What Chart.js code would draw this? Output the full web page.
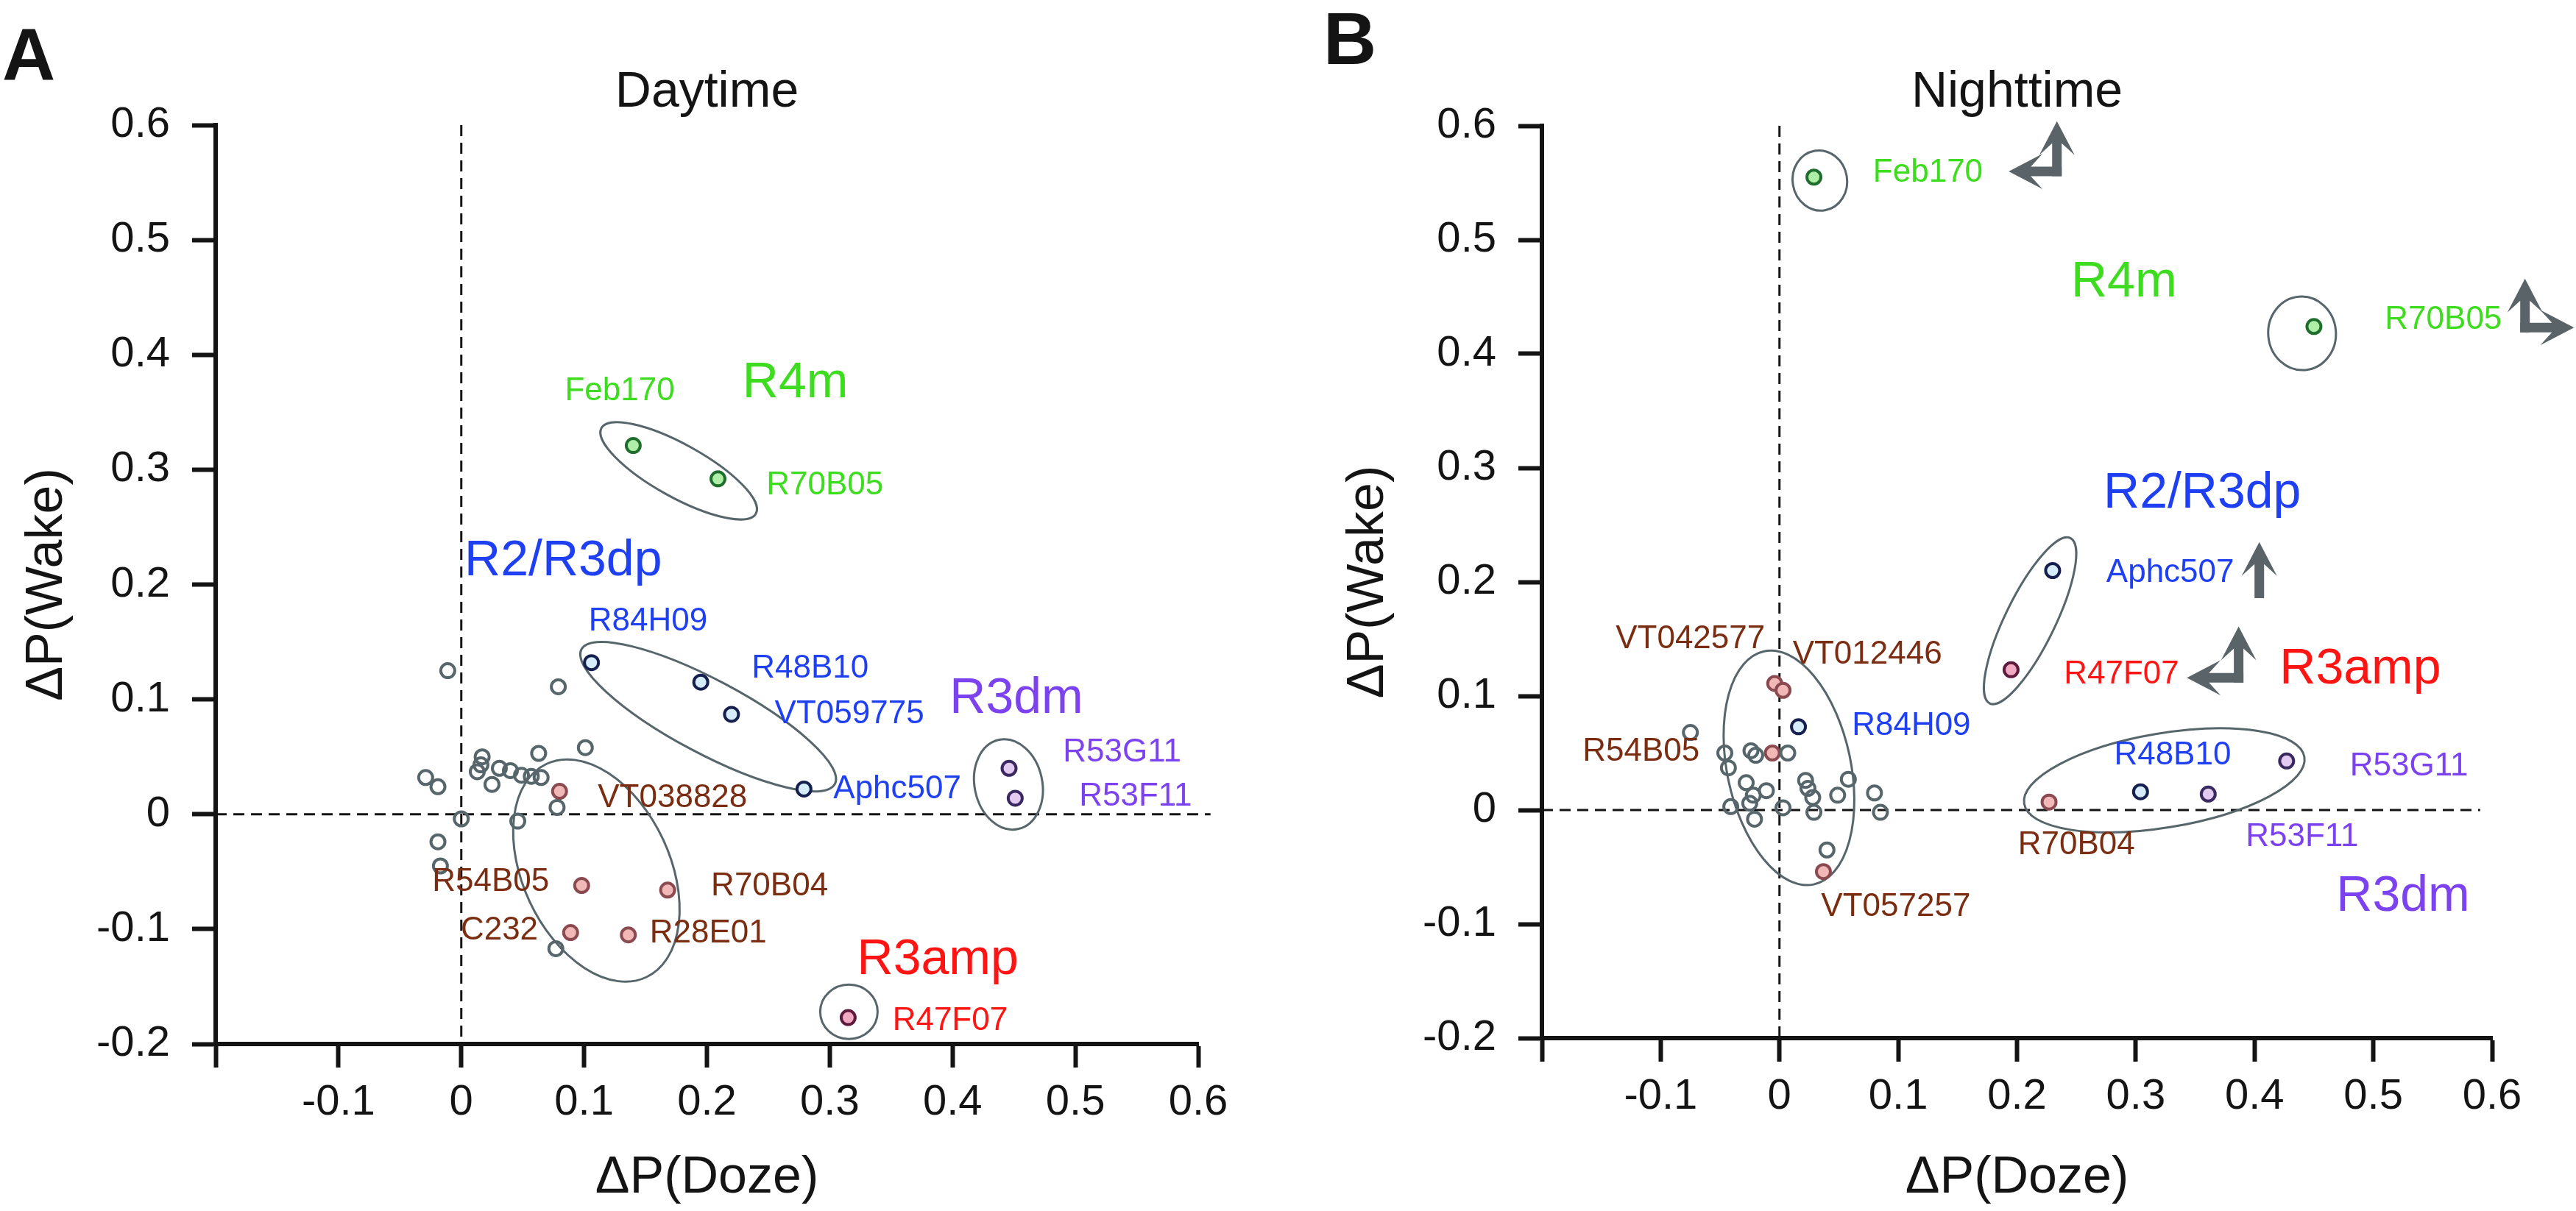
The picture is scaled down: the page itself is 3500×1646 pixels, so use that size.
<!DOCTYPE html>
<html>
<head>
<meta charset="utf-8">
<script src="https://cdn.jsdelivr.net/npm/chart.js@4.4.1/dist/chart.umd.min.js"></script>
<style>
  html, body { margin:0; padding:0; background:#fff; }
  #wrap { position:relative; width:3500px; height:1646px; }
  .panel { position:absolute; top:0; width:1750px; height:1646px; }
</style>
</head>
<body>
<div id="wrap">
  <div class="panel" style="left:0"><canvas id="dayChart"></canvas></div>
  <div class="panel" style="left:1750px"><canvas id="nightChart"></canvas></div>
</div>
<script>
// ---- data ----
const xTickLabels = ['', '-0.1', '0', '0.1', '0.2', '0.3', '0.4', '0.5', '0.6'];
const yTickLabels = ['-0.2', '-0.1', '0', '0.1', '0.2', '0.3', '0.4', '0.5', '0.6'];

// Daytime: unlabelled lines
const dayGrayX = [-0.011, 0.079, 0.101, 0.063, 0.017, 0.016, 0.013, 0.025, 0.031, 0.040, 0.049, 0.057, 0.065, -0.029, -0.019, 0.000, 0.046, 0.078, -0.019, -0.017, 0.077];
const dayGrayY = [0.125, 0.111, 0.058, 0.053, 0.050, 0.043, 0.037, 0.026, 0.040, 0.038, 0.034, 0.033, 0.032, 0.032, 0.024, -0.004, -0.006, 0.006, -0.024, -0.045, -0.117];
// Daytime: named lines
const dayLines = ['Feb170', 'R70B05', 'R84H09', 'R48B10', 'VT059775', 'Aphc507', 'R53G11', 'R53F11', 'R47F07', 'VT038828', 'R54B05', 'R70B04', 'C232', 'R28E01'];
const dayGroup = ['R4m', 'R4m', 'R2/R3dp', 'R2/R3dp', 'R2/R3dp', 'R2/R3dp', 'R3dm', 'R3dm', 'R3amp', 'other', 'other', 'other', 'other', 'other'];
const dayX = [0.140, 0.209, 0.106, 0.195, 0.220, 0.279, 0.446, 0.451, 0.315, 0.080, 0.098, 0.168, 0.089, 0.136];
const dayY = [0.321, 0.292, 0.132, 0.115, 0.087, 0.022, 0.040, 0.014, -0.177, 0.020, -0.062, -0.066, -0.103, -0.105];

// Nighttime: unlabelled lines
const nightGrayX = [-0.075, -0.046, -0.024, -0.020, 0.007, -0.043, -0.028, -0.011, -0.022, -0.041, -0.025, -0.021, 0.003, 0.022, 0.024, 0.028, 0.029, 0.049, 0.058, 0.080, 0.085, 0.040];
const nightGrayY = [0.068, 0.050, 0.052, 0.048, 0.050, 0.037, 0.024, 0.017, 0.013, 0.003, 0.006, -0.008, 0.002, 0.026, 0.019, 0.011, -0.002, 0.013, 0.027, 0.015, -0.002, -0.035];
// Nighttime: named lines
const nightLines = ['Feb170', 'R70B05', 'Aphc507', 'R84H09', 'R48B10', 'R47F07', 'R53G11', 'R53F11', 'R70B04', 'VT042577', 'VT012446', 'R54B05', 'VT057257'];
const nightGroup = ['R4m', 'R4m', 'R2/R3dp', 'R2/R3dp', 'R2/R3dp', 'R3amp', 'R3dm', 'R3dm', 'other', 'other', 'other', 'other', 'other'];
const nightX = [0.029, 0.450, 0.230, 0.016, 0.304, 0.195, 0.427, 0.361, 0.227, -0.004, 0.003, -0.006, 0.037];
const nightY = [0.555, 0.424, 0.210, 0.073, 0.016, 0.123, 0.043, 0.014, 0.007, 0.111, 0.105, 0.050, -0.054];

// ---- styles ----
Chart.defaults.font.family = "'Liberation Sans', Arial, sans-serif";
const ink = '#141414';
const ringGray = '#56666b';
const groupText = { 'R4m':'#3ddc1f', 'R2/R3dp':'#1f3ff2', 'R3dm':'#7d42f0', 'R3amp':'#ff1414', 'other':'#7b2d12' };
const groupMarker = {
  'R4m':     { border:'#1f6e2e', fill:'#aeeea6' },
  'R2/R3dp': { border:'#16204e', fill:'#d6ecfa' },
  'R3dm':    { border:'#3a2860', fill:'#e2caf0' },
  'R3amp':   { border:'#5e1a3a', fill:'#f2aac2' },
  'other':   { border:'#8a4a50', fill:'#f2b8b8' }
};

// ---- annotations (positions in data units, sizes in px) ----
const dayNotes = {
  letter: { t:'A', x:3, y:109 },
  zeroTo: 0.61,
  names: { Feb170:[0.129,0.368], R70B05:[0.296,0.286], R84H09:[0.152,0.168], R48B10:[0.284,0.127], VT059775:[0.316,0.087],
           Aphc507:[0.355,0.022], R53G11:[0.538,0.054], R53F11:[0.549,0.015], R47F07:[0.398,-0.180], VT038828:[0.172,0.014],
           R54B05:[0.024,-0.059], R70B04:[0.251,-0.063], C232:[0.031,-0.101], R28E01:[0.201,-0.104] },
  groups: [ { t:'R4m', x:0.272, y:0.375 }, { t:'R2/R3dp', x:0.083, y:0.220 }, { t:'R3dm', x:0.452, y:0.100 }, { t:'R3amp', x:0.388, y:-0.127 } ],
  ellipses: [
    { x:0.177, y:0.299, a:120, b:36, rot:29 },
    { x:0.201, y:0.085, a:195, b:50, rot:28 },
    { x:0.110, y:-0.049, a:160, b:100, rot:65 },
    { x:0.4455, y:0.026, a:62, b:46, rot:78 },
    { x:0.3156, y:-0.172, a:39, b:37, rot:0 }
  ],
  arrows: []
};
const nightNotes = {
  letter: { t:'B', x:48, y:87 },
  zeroTo: 0.59,
  names: { Feb170:[0.125,0.559], R70B05:[0.559,0.430], Aphc507:[0.329,0.208], R84H09:[0.111,0.0735], R48B10:[0.331,0.048],
           R47F07:[0.288,0.119], R53G11:[0.530,0.038], R53F11:[0.440,-0.024], R70B04:[0.250,-0.031], VT042577:[-0.075,0.150],
           VT012446:[0.074,0.136], R54B05:[-0.1165,0.051], VT057257:[0.098,-0.085] },
  groups: [ { t:'R4m', x:0.290, y:0.4626 }, { t:'R2/R3dp', x:0.356, y:0.277 }, { t:'R3amp', x:0.489, y:0.123 }, { t:'R3dm', x:0.525, y:-0.076 } ],
  ellipses: [
    { x:0.034, y:0.552, a:41, b:37, rot:80 },
    { x:0.440, y:0.418, a:50, b:46, rot:85 },
    { x:0.211, y:0.166, a:125, b:34, rot:-64 },
    { x:0.324, y:0.026, a:193, b:64, rot:-9.5 },
    { x:0.008, y:0.037, a:162, b:84, rot:78 }
  ],
  arrows: [
    { x:0.2336, y:0.560, up:0.604, side:0.193 },
    { x:0.6277, y:0.423, up:0.466, side:0.669 },
    { x:0.404, y:0.190, up:0.235 },
    { x:0.3866, y:0.116, up:0.161, side:0.343 }
  ]
};

// ---- helpers ----
function arrow(ctx, x0, y0, x1, y1) {
  const ang = Math.atan2(y1 - y0, x1 - x0), len = Math.hypot(x1 - x0, y1 - y0);
  const w = 6.5, hl = 46, hw = 24, notch = 16;
  ctx.save();
  ctx.translate(x0, y0); ctx.rotate(ang);
  ctx.beginPath();
  ctx.moveTo(-w, -w);
  ctx.lineTo(len - hl + notch, -w);
  ctx.lineTo(len - hl, -hw);
  ctx.lineTo(len, 0);
  ctx.lineTo(len - hl, hw);
  ctx.lineTo(len - hl + notch, w);
  ctx.lineTo(-w, w);
  ctx.closePath();
  ctx.fill();
  ctx.restore();
}

function makeOverlay(notes, names, groups) {
  return {
    id: 'overlay',
    beforeDatasetsDraw(chart) {
      const { ctx, chartArea, scales:{ x, y } } = chart;
      ctx.save();
      ctx.strokeStyle = ink; ctx.lineWidth = 3; ctx.setLineDash([15, 9]);
      ctx.beginPath();
      ctx.moveTo(chartArea.left, y.getPixelForValue(0));
      ctx.lineTo(x.getPixelForValue(notes.zeroTo), y.getPixelForValue(0));
      ctx.moveTo(x.getPixelForValue(0), chartArea.top);
      ctx.lineTo(x.getPixelForValue(0), chartArea.bottom + 32);
      ctx.stroke();
      ctx.setLineDash([]);
      ctx.strokeStyle = ringGray; ctx.lineWidth = 3;
      notes.ellipses.forEach(e => {
        ctx.beginPath();
        ctx.ellipse(x.getPixelForValue(e.x), y.getPixelForValue(e.y), e.a, e.b, e.rot * Math.PI / 180, 0, 2 * Math.PI);
        ctx.stroke();
      });
      ctx.restore();
    },
    afterDatasetsDraw(chart) {
      const { ctx, scales:{ x, y } } = chart;
      ctx.save();
      ctx.textAlign = 'center'; ctx.textBaseline = 'middle';
      // line names
      ctx.font = "44px 'Liberation Sans', Arial, sans-serif";
      names.forEach((n, i) => {
        const p = notes.names[n];
        ctx.fillStyle = groupText[groups[i]];
        ctx.fillText(n, x.getPixelForValue(p[0]), y.getPixelForValue(p[1]));
      });
      // cluster names
      ctx.font = "68px 'Liberation Sans', Arial, sans-serif";
      notes.groups.forEach(g => {
        ctx.fillStyle = groupText[g.t];
        ctx.fillText(g.t, x.getPixelForValue(g.x), y.getPixelForValue(g.y));
      });
      // arrows
      ctx.fillStyle = '#5a6468';
      notes.arrows.forEach(a => {
        const cx = x.getPixelForValue(a.x), cy = y.getPixelForValue(a.y);
        arrow(ctx, cx, cy, cx, y.getPixelForValue(a.up));
        if (a.side !== undefined) arrow(ctx, cx, cy, x.getPixelForValue(a.side), cy);
      });
      // panel letter
      ctx.fillStyle = ink; ctx.textAlign = 'left'; ctx.textBaseline = 'alphabetic';
      ctx.font = "bold 100px 'Liberation Sans', Arial, sans-serif";
      ctx.fillText(notes.letter.t, notes.letter.x, notes.letter.y);
      ctx.restore();
    }
  };
}

function datasets(grayX, grayY, names, groups, xs, ys) {
  const sets = [{
    data: grayX.map((v, i) => ({ x:v, y:grayY[i] })),
    borderColor: ringGray, backgroundColor: 'rgba(0,0,0,0)'
  }];
  Object.keys(groupMarker).forEach(g => {
    const idx = groups.map((gg, i) => gg === g ? i : -1).filter(i => i >= 0);
    sets.push({
      data: idx.map(i => ({ x:xs[i], y:ys[i] })),
      borderColor: groupMarker[g].border, backgroundColor: groupMarker[g].fill
    });
  });
  sets.forEach(s => { s.pointRadius = 9.5; s.pointBorderWidth = 4; s.pointHoverRadius = 9.5; });
  return sets;
}

function scatter(id, title, lay, notes, grayX, grayY, names, groups, xs, ys) {
  const tickGrid = { drawOnChartArea:false, drawTicks:true, tickLength:32, tickWidth:6, tickColor:ink, color:ink };
  new Chart(document.getElementById(id).getContext('2d'), {
    type: 'scatter',
    data: { datasets: datasets(grayX, grayY, names, groups, xs, ys) },
    options: {
      responsive: true, maintainAspectRatio: false, animation: false, devicePixelRatio: 1,
      layout: { padding: { top:0, left:0, bottom:0, right:lay.right } },
      plugins: {
        legend: { display:false }, tooltip: { enabled:false },
        title: { display:true, text:title, fullSize:false, color:ink, font:{ size:68, weight:'normal' }, padding:{ top:85, bottom:lay.titleBottom } }
      },
      scales: {
        x: {
          type:'linear', min:-0.2, max:0.6,
          ticks: { stepSize:0.1, autoSkip:false, maxRotation:0, padding:13, color:ink, font:{ size:58 }, callback:(v, i) => xTickLabels[i] },
          grid: tickGrid,
          border: { display:true, color:ink, width:6 },
          title: { display:true, text:'ΔP(Doze)', color:ink, font:{ size:70 }, padding:{ top:0, bottom:2 } },
          afterFit: s => { s.height = lay.xH; s.paddingLeft = 0; s.paddingRight = 0; }
        },
        y: {
          type:'linear', min:-0.2, max:0.6,
          ticks: { stepSize:0.1, autoSkip:false, padding:30, color:ink, font:{ size:58 }, callback:(v, i) => yTickLabels[i] },
          grid: tickGrid,
          border: { display:true, color:ink, width:6 },
          title: { display:true, text:'ΔP(Wake)', color:ink, font:{ size:70 }, padding:{ top:lay.yTitle, bottom:0 } },
          afterFit: s => { s.width = lay.yW; s.paddingTop = 0; s.paddingBottom = 0; }
        }
      }
    },
    plugins: [makeOverlay(notes, names, groups)]
  });
}

scatter('dayChart', 'Daytime', { right:122, titleBottom:3.4, xH:227, yW:293, yTitle:23 },
        dayNotes, dayGrayX, dayGrayY, dayLines, dayGroup, dayX, dayY);
scatter('nightChart', 'Nighttime', { right:114, titleBottom:4.4, xH:235, yW:345, yTitle:68 },
        nightNotes, nightGrayX, nightGrayY, nightLines, nightGroup, nightX, nightY);
</script>
</body>
</html>
